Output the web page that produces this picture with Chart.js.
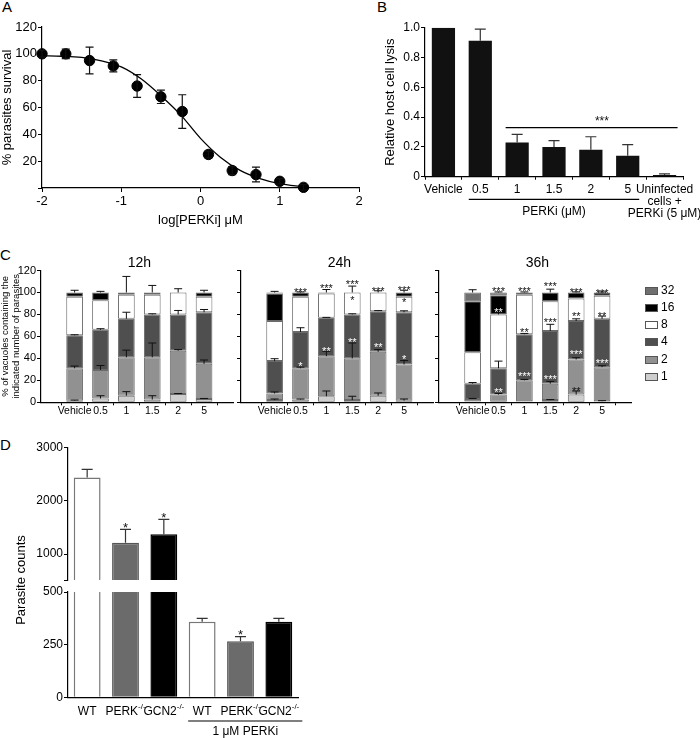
<!DOCTYPE html>
<html>
<head>
<meta charset="utf-8">
<title>PERKi figure</title>
<script src="https://cdn.jsdelivr.net/npm/chart.js@4.4.1/dist/chart.umd.min.js"></script>
<style>
  body { margin: 0; width: 700px; height: 738px; position: relative; overflow: hidden; background: #fff; font-family: "Liberation Sans", Arial, sans-serif; }
  canvas { position: absolute; }
  .tag { position: absolute; font-size: 15px; line-height: 15px; color: #000; }
</style>
</head>
<body>
<div class="tag" style="left:2px;top:-1px">A</div>
<div class="tag" style="left:377px;top:-1px">B</div>
<div class="tag" style="left:0px;top:247px">C</div>
<div class="tag" style="left:0px;top:437px">D</div>
<canvas id="chartA" width="372" height="228" style="left:0;top:0"></canvas>
<canvas id="chartB" width="328" height="228" style="left:372px;top:0"></canvas>
<canvas id="chart12" width="236" height="180" style="left:0;top:240px"></canvas>
<canvas id="chart24" width="208" height="180" style="left:228px;top:240px"></canvas>
<canvas id="chart36" width="274" height="180" style="left:426px;top:240px"></canvas>
<canvas id="chartDtop" width="320" height="160" style="left:0;top:430px"></canvas>
<canvas id="chartDbot" width="320" height="308" style="left:0;top:430px"></canvas>
<script>
const FAMILY = '"Liberation Sans", Arial, sans-serif';

// A: parasite survival vs log dose (mean, SEM) and the fitted curve
const logDose = [-2, -1.7, -1.4, -1.1, -0.8, -0.5, -0.23, 0.1, 0.4, 0.7, 1.0, 1.3];
const survival = [100, 100, 95, 91, 76, 68, 57, 25, 13, 10, 5, 0.5];
const survivalErr = [2.5, 3.5, 10, 4.5, 8.5, 5, 12.5, 2.5, 3, 5.5, 2, 2];
const fitX = [-2, -1.75, -1.5, -1.25, -1, -0.75, -0.5, -0.25, 0, 0.25, 0.5, 0.75, 1, 1.3];
const fitY = [98.5, 98.2, 97.3, 94.8, 90.3, 81.4, 68.8, 54.5, 37, 23, 13.1, 7, 3.2, 0.8];

// B: relative host cell lysis
const lysisLabels = ['Vehicle', '0.5', '1', '1.5', '2', '5', ['Uninfected', 'cells +', 'PERKi (5 \u03bcM)']];
const lysis = [1.0, 0.913, 0.23, 0.2, 0.181, 0.141, 0.011];
const lysisErr = [0, 0.078, 0.054, 0.042, 0.087, 0.074, 0.008];

// C: % vacuoles per parasite number, one row per layer (1, 2, 4, 8, 16, 32)
const dosesC = ['Vehicle', '0.5', '1', '1.5', '2', '5'];
const layerNames = ['1', '2', '4', '8', '16', '32'];
const h12 = [
  [1.5, 3.5, 6, 2.5, 7.5, 3],
  [29.5, 26, 35, 38.5, 39.5, 32],
  [30, 36.5, 35, 39, 33, 47],
  [35, 27, 22, 18, 20, 14],
  [4, 7, 2, 2, 0, 4],
  [0, 0, 0, 0, 0, 0]
];
const h12Err = [
  [0.5, 2.5, 3.7, 3.5, 0.5, 0.5],
  [2, 4, 6.5, 13, 1, 3.5],
  [0.5, 1, 6, 0.6, 3.6, 2.5],
  [0, 0, 0, 0, 3.4, 0],
  [2, 1, 14.6, 6.4, 0, 2],
  [0, 0, 0, 0, 0, 0]
];
const h24 = [
  [2, 2.5, 5.5, 2, 6, 1.5],
  [6, 28.5, 36.5, 38, 40, 33],
  [29.5, 33, 35, 40, 37, 47.5],
  [36.5, 32, 22, 20, 17, 14],
  [25, 4, 1, 0, 0, 4],
  [1, 0, 0, 0, 0, 0]
];
const h24Err = [
  [1, 0.5, 4.8, 3.5, 2.5, 1.5],
  [1.4, 1, 4.4, 14, 2, 3.5],
  [2.2, 3.9, 0.3, 0.6, 0.5, 1.3],
  [0, 0, 0, 5.8, 1.5, 0],
  [0, 0.5, 2.7, 0, 0, 2],
  [1, 0, 0, 0, 0, 0]
];
const h36 = [
  [1, 0, 1, 2, 7, 1],
  [2, 7, 19, 15, 32, 31],
  [14, 24, 42, 48, 35, 44],
  [28.5, 49, 36, 27, 20.5, 21],
  [46.5, 17.5, 2, 8, 5.5, 3],
  [8, 2.5, 0, 0, 0, 0]
];
const h36Err = [
  [0, 0, 0, 0.5, 3.3, 0.5],
  [0.5, 1, 0.8, 2, 1.6, 1.3],
  [1, 6.5, 0.7, 6, 2, 2.5],
  [0, 2, 0, 0, 0, 0],
  [0, 0, 0.5, 3, 0.5, 0.5],
  [2.5, 0.5, 0, 0, 0, 0]
];
// significance marks: [bar, height, text, colour]
const stars24 = [
  [1, 102.5, '***', 'k'], [1, 35.5, '*', 'w'],
  [2, 106, '***', 'k'], [2, 49, '**', 'w'],
  [3, 109.6, '***', 'k'], [3, 95, '*', 'k'], [3, 84.5, '**', 'w'], [3, 57, '**', 'w'],
  [4, 103.4, '***', 'k'], [4, 52, '**', 'w'],
  [5, 104.6, '***', 'k'], [5, 93, '*', 'k'], [5, 41.5, '*', 'w']
];
const stars36 = [
  [1, 103, '***', 'k'], [1, 84, '**', 'w'], [1, 11.8, '**', 'w'],
  [2, 103, '***', 'k'], [2, 66, '**', 'k'], [2, 25.7, '***', 'w'],
  [3, 107.5, '***', 'k'], [3, 74.8, '***', 'k'], [3, 23.6, '***', 'w'],
  [4, 102.7, '***', 'k'], [4, 80.9, '**', 'k'], [4, 46, '***', 'w'], [4, 12.7, '**', 'k'],
  [5, 101.5, '***', 'k'], [5, 81, '**', 'k'], [5, 37.8, '***', 'w']
];

// D: parasite counts
const genotypes = ['WT', 'PERK', 'GCN2', 'WT', 'PERK', 'GCN2'];
const knockout = ['', '-/-', '-/-', '', '-/-', '-/-'];
const counts = [2440, 1213, 1370, 359, 266, 359];
const countsErr = [152, 252, 283, 16, 22, 16];
const breakLow = 500, breakHigh = 511;

Chart.defaults.font.family = FAMILY;
Chart.defaults.color = '#000';
Chart.defaults.animation = false;
Chart.defaults.responsive = false;
Chart.defaults.plugins.legend.display = false;
Chart.defaults.plugins.tooltip.enabled = false;

const tickGrid = len => ({ display: true, drawOnChartArea: false, drawTicks: len > 0, tickLength: len, tickColor: '#000', tickWidth: 1 });
const axisLine = { display: true, color: '#000', width: 1.2 };

// fixes the axis box so the plot areas line up with the figure
function fixSize(w, h) {
  return s => {
    if (w != null) s.width = w;
    if (h != null) s.height = h;
    s.paddingLeft = s.paddingRight = s.paddingTop = s.paddingBottom = 0;
  };
}

// error bars, stars, titles, brackets and the legend
const extras = {
  id: 'extras',
  afterDatasetsDraw(chart, _args, o) {
    const { ctx, chartArea: ca } = chart;
    const xs = chart.scales.x, ys = chart.scales.y;
    const font = s => s + 'px ' + FAMILY;
    ctx.save();

    ctx.strokeStyle = o.errColor || '#111';
    ctx.lineWidth = o.lw || 1;
    chart.data.datasets.forEach((ds, di) => {
      if (!ds.errors) return;
      const meta = chart.getDatasetMeta(di);
      ds.errors.forEach((e, i) => {
        const el = meta.data[i];
        if (!e || !el || !isFinite(el.y)) return;
        const d = Math.abs(ys.getPixelForValue(e) - ys.getPixelForValue(0));
        const c = (o.cap || 8) / 2;
        const yTop = el.y - d, yBot = ds.errBoth ? el.y + d : el.y;
        ctx.beginPath();
        ctx.moveTo(el.x, yBot); ctx.lineTo(el.x, yTop);
        ctx.moveTo(el.x - c, yTop); ctx.lineTo(el.x + c, yTop);
        if (ds.errBoth) { ctx.moveTo(el.x - c, yBot); ctx.lineTo(el.x + c, yBot); }
        ctx.stroke();
      });
    });

    const ss = o.starSize || 11;
    ctx.font = font(ss); ctx.textAlign = 'center'; ctx.textBaseline = 'alphabetic';
    (o.stars || []).forEach(([xv, yv, t, c]) => {
      ctx.fillStyle = c === 'w' ? '#fff' : '#111';
      ctx.fillText(t, xs.getPixelForValue(xv), ys.getPixelForValue(yv) + ss * 0.57);
    });

    ctx.fillStyle = '#000';
    if (o.title) {
      ctx.font = font(14); ctx.textAlign = 'center'; ctx.textBaseline = 'middle';
      ctx.fillText(o.title, (xs.getPixelForValue(0) + xs.getPixelForValue(5)) / 2, ca.top - 7);
    }

    (o.lines || []).forEach(l => {
      const x1 = xs.getPixelForValue(l.from) + l.dx1, x2 = xs.getPixelForValue(l.to) + l.dx2;
      const y = l.value != null ? ys.getPixelForValue(l.value) : ca.bottom + l.below;
      ctx.strokeStyle = '#000'; ctx.lineWidth = 1.2;
      ctx.beginPath(); ctx.moveTo(x1, y); ctx.lineTo(x2, y); ctx.stroke();
      if (l.text) {
        ctx.font = font(l.size || 12); ctx.textAlign = 'center'; ctx.textBaseline = 'middle';
        ctx.fillText(l.text, (x1 + x2) / 2, y + l.textDy);
      }
    });

    (o.texts || []).forEach(t => {
      ctx.font = font(t.size || 12); ctx.textAlign = t.align || 'center'; ctx.textBaseline = 'middle';
      const x = t.at != null ? xs.getPixelForValue(t.at) : ca.right + t.dxRight;
      ctx.fillText(t.text, x, ca.bottom + t.below);
    });

    if (o.legend) {
      ctx.font = font(12); ctx.textAlign = 'left'; ctx.textBaseline = 'middle'; ctx.lineWidth = 1;
      chart.data.datasets.slice().reverse().forEach((ds, k) => {
        const y = Math.round(ca.top + 20.2 + k * 17.2), x = Math.round(ca.right + 14);
        ctx.fillStyle = ds.backgroundColor; ctx.fillRect(x, y - 4, 13, 8);
        ctx.strokeStyle = '#555'; ctx.strokeRect(x + 0.5, y - 3.5, 12, 7);
        ctx.fillStyle = '#000'; ctx.fillText(ds.label, x + 16, y);
      });
    }

    if (o.xlab) {
      ctx.textBaseline = 'middle'; ctx.textAlign = 'left'; ctx.fillStyle = '#000';
      o.xlab.names.forEach((n, i) => {
        const sup = o.xlab.sups[i];
        ctx.font = font(12); const w1 = ctx.measureText(n).width;
        ctx.font = font(8); const w2 = sup ? ctx.measureText(sup).width : 0;
        const x0 = xs.getPixelForValue(i) - (w1 + w2) / 2, y = ca.bottom + o.xlab.below;
        ctx.font = font(12); ctx.fillText(n, x0, y);
        if (sup) { ctx.font = font(8); ctx.fillText(sup, x0 + w1, y - 5); }
      });
    }

    if (o.ytitle) {
      ctx.save();
      ctx.translate(ca.left + o.ytitle.dx, ca.top + o.ytitle.dy);
      ctx.rotate(-Math.PI / 2);
      ctx.font = font(13); ctx.textAlign = 'center'; ctx.textBaseline = 'middle'; ctx.fillStyle = '#000';
      ctx.fillText(o.ytitle.text, 0, 0);
      ctx.restore();
    }
    ctx.restore();
  }
};

// ---- A ----
new Chart(document.getElementById('chartA'), {
  type: 'scatter',
  data: {
    datasets: [
      {
        type: 'line',
        data: fitX.map((v, i) => ({ x: v, y: fitY[i] })),
        borderColor: '#000', borderWidth: 1.3, pointRadius: 0,
        cubicInterpolationMode: 'monotone', clip: false
      },
      {
        data: logDose.map((v, i) => ({ x: v, y: survival[i] })),
        errors: survivalErr, errBoth: true,
        pointRadius: 5.2, backgroundColor: '#000', borderColor: '#000', clip: false
      }
    ]
  },
  options: {
    layout: { padding: { left: 0, top: 27, right: 13, bottom: 0 } },
    scales: {
      x: {
        type: 'linear', min: -2, max: 2,
        grid: tickGrid(4), border: axisLine,
        ticks: { stepSize: 1, padding: 2, font: { size: 13 } },
        afterFit: fixSize(null, 40),
        title: { display: true, text: 'log[PERKi] \u03bcM', font: { size: 13 }, padding: { top: 0, bottom: 0 } }
      },
      y: {
        min: 0, max: 120,
        grid: tickGrid(4), border: axisLine,
        ticks: { stepSize: 20, padding: 1, font: { size: 13 }, callback: v => (v === 0 ? '' : v) },
        afterFit: fixSize(42, null),
        title: { display: true, text: '% parasites survival', font: { size: 13 }, padding: { top: 0, bottom: 0 } }
      }
    },
    plugins: { extras: { cap: 8, lw: 1.2 } }
  },
  plugins: [extras]
});

// ---- B ----
new Chart(document.getElementById('chartB'), {
  type: 'bar',
  data: {
    labels: lysisLabels,
    datasets: [{ data: lysis, errors: lysisErr, backgroundColor: '#111', barPercentage: 0.63, categoryPercentage: 1 }]
  },
  options: {
    layout: { padding: { left: 0, top: 27.7, right: 17, bottom: 0 } },
    scales: {
      x: {
        grid: tickGrid(3), border: axisLine,
        ticks: { autoSkip: false, maxRotation: 0, minRotation: 0, padding: 4, font: { size: 12, lineHeight: 1 } },
        afterFit: fixSize(null, 51.3)
      },
      y: {
        min: 0, max: 1,
        grid: tickGrid(4), border: axisLine,
        ticks: { stepSize: 0.2, padding: 1, font: { size: 12 }, callback: v => (v === 0 ? '0' : v.toFixed(1)) },
        afterFit: fixSize(53, null),
        title: { display: true, text: 'Relative host cell lysis', font: { size: 13 }, padding: { top: 11, bottom: 0 } }
      }
    },
    plugins: {
      extras: {
        cap: 11, lw: 1.2, errColor: '#333', starSize: 12,
        stars: [[4.3, 0.392, '***', 'k']],
        lines: [
          { from: 2, dx1: -11.5, to: 6, dx2: 13, value: 0.329 },
          { from: 1, dx1: -11.5, to: 5, dx2: 11.5, below: 22.6, text: 'PERKi (\u03bcM)', textDy: 12.4 }
        ]
      }
    }
  },
  plugins: [extras]
});

// ---- C ----
const layerColors = ['#cecece', '#919191', '#4f4f4f', '#ffffff', '#000000', '#6f6f6f'];

function stackedSets(layers, errs) {
  return layers.map((vals, k) => ({
    label: layerNames[k],
    data: vals.map((v, i) => ({ x: i, y: v || null })),
    errors: errs[k],
    backgroundColor: layerColors[k],
    borderColor: '#6a6a6a',
    borderWidth: 1,
    borderSkipped: false,
    barPercentage: 0.645,
    categoryPercentage: 1
  }));
}

function makeC(id, layers, errs, opts) {
  const first = !!opts.first;
  return new Chart(document.getElementById(id), {
    type: 'bar',
    data: { datasets: stackedSets(layers, errs) },
    options: {
      layout: { padding: { left: 0, top: 30.5, right: opts.right, bottom: 0 } },
      scales: {
        x: {
          type: 'linear', stacked: true, min: -0.68, max: 5.5,
          afterBuildTicks: s => { s.ticks = dosesC.map((_, i) => ({ value: i })); },
          grid: tickGrid(3), border: axisLine,
          ticks: { autoSkip: false, maxRotation: 0, minRotation: 0, padding: 0, font: { size: 10.5 }, callback: v => dosesC[v] },
          afterFit: fixSize(null, 17.7)
        },
        y: {
          stacked: true, min: 0, max: 120,
          grid: tickGrid(4), border: axisLine,
          ticks: { stepSize: 20, display: first, padding: 1, font: { size: 11 } },
          afterFit: fixSize(opts.yw, null),
          title: {
            display: first,
            text: ['% of vacuoles containing the', 'indicated number of parasites'],
            font: { size: 9.5, lineHeight: 1.15 }, padding: { top: 0, bottom: 0 }
          }
        }
      },
      plugins: {
        extras: {
          cap: 8, lw: 1, title: opts.title, stars: opts.stars, legend: opts.legend, texts: opts.texts
        }
      }
    },
    plugins: [extras]
  });
}

makeC('chart12', h12, h12Err, { first: true, yw: 41, right: 3, title: '12h' });
makeC('chart24', h24, h24Err, { yw: 13, right: 3, title: '24h', stars: stars24 });
makeC('chart36', h36, h36Err, {
  yw: 13, right: 69, title: '36h', stars: stars36, legend: true,
  texts: [{ text: 'PERKi (\u03bcM)', dxRight: -4, align: 'left', below: 9.4, size: 11 }]
});

// ---- D (broken axis: two stacked plots) ----
const dFill = ['#ffffff', '#6b6b6b', '#000000', '#ffffff', '#6b6b6b', '#000000'];
const dEdge = ['#777777', '#555555', '#000000', '#777777', '#555555', '#000000'];
const dLabels = genotypes.map((g, i) => g + knockout[i]);

function dSet(errs) {
  return [{
    data: counts, errors: errs, backgroundColor: dFill, borderColor: dEdge,
    borderWidth: 1.5, barPercentage: 0.7, categoryPercentage: 1, clip: 0
  }];
}

new Chart(document.getElementById('chartDtop'), {
  type: 'bar',
  data: { labels: dLabels, datasets: dSet(countsErr.map((e, i) => (counts[i] > breakHigh ? e : 0))) },
  options: {
    layout: { padding: { left: 0, top: 17.7, right: 22, bottom: 10 } },
    scales: {
      x: { display: false },
      y: {
        min: breakHigh, max: 3000,
        afterBuildTicks: s => { s.ticks = [breakHigh, 1000, 2000, 3000].map(v => ({ value: v })); },
        grid: tickGrid(4), border: axisLine,
        ticks: { padding: 1, font: { size: 12 }, callback: v => (v === breakHigh ? '' : v) },
        afterFit: fixSize(68, null)
      }
    },
    plugins: { extras: { cap: 11, lw: 1.2, errColor: '#333', starSize: 13, stars: [[1, 1545, '*', 'k'], [2, 1733, '*', 'k']] } }
  },
  plugins: [extras]
});

new Chart(document.getElementById('chartDbot'), {
  type: 'bar',
  data: { labels: dLabels, datasets: dSet(countsErr.map((e, i) => (counts[i] <= breakLow ? e : 0))) },
  options: {
    layout: { padding: { left: 0, top: 162, right: 22, bottom: 0 } },
    scales: {
      x: {
        grid: tickGrid(0), border: axisLine,
        ticks: { display: false },
        afterFit: fixSize(null, 40.7)
      },
      y: {
        min: 0, max: breakLow,
        afterBuildTicks: s => { s.ticks = [0, 250, 500].map(v => ({ value: v })); },
        grid: tickGrid(4), border: axisLine,
        ticks: { padding: 1, font: { size: 12 } },
        afterFit: fixSize(68, null)
      }
    },
    plugins: {
      extras: {
        cap: 11, lw: 1.2, errColor: '#333', starSize: 13,
        stars: [[4, 310, '*', 'k']],
        xlab: { names: genotypes, sups: knockout, below: 14.4 },
        lines: [{ from: 3, dx1: -14, to: 5, dx2: 23.5, below: 23.7, text: '1 \u03bcM PERKi', textDy: 10.7 }],
        ytitle: { text: 'Parasite counts', dx: -46.3, dy: -12 }
      }
    }
  },
  plugins: [extras]
});
</script>
</body>
</html>
